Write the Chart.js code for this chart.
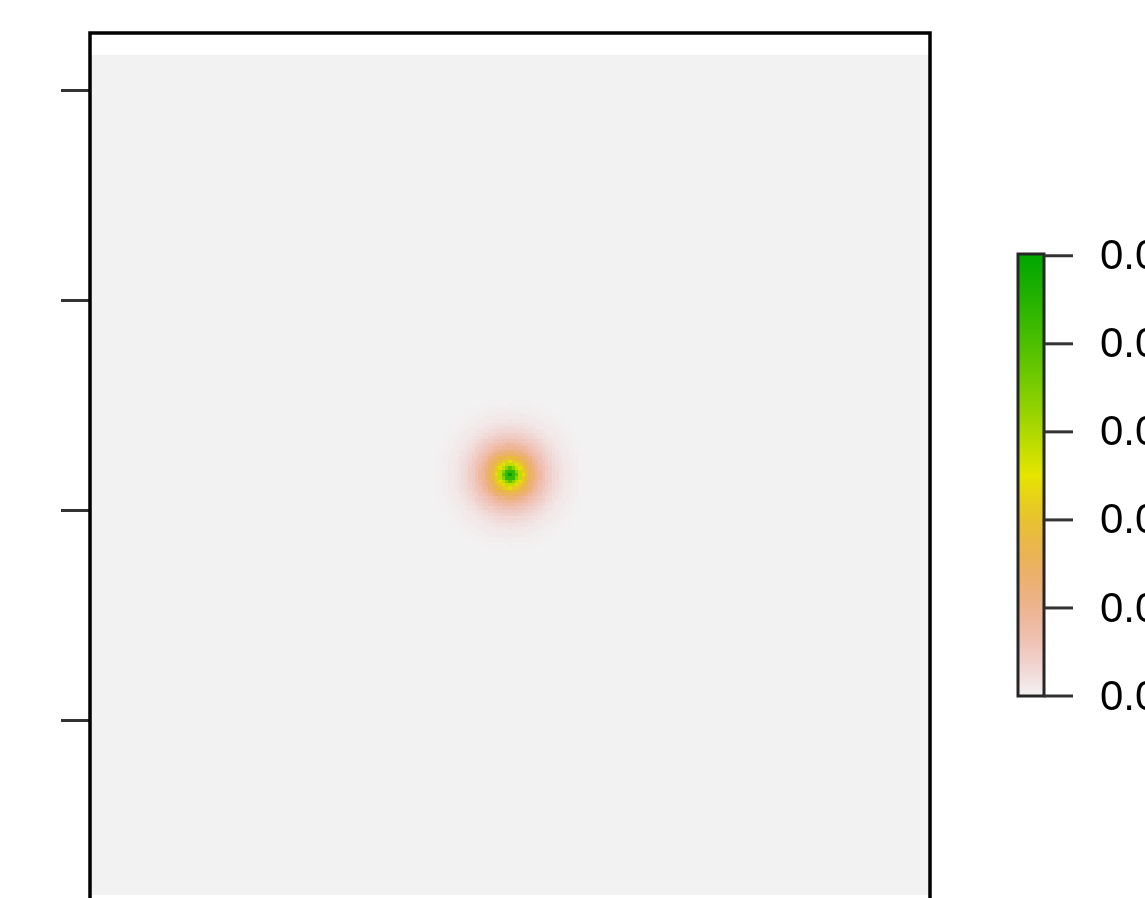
<!DOCTYPE html>
<html>
<head>
<meta charset="utf-8">
<script src="https://cdn.jsdelivr.net/npm/chart.js@4.4.1/dist/chart.umd.min.js"></script>
<style>
  html, body { margin: 0; padding: 0; background: #ffffff; overflow: hidden; }
  canvas { display: block; }
</style>
</head>
<body>
<canvas id="density" width="1145" height="950"></canvas>
<script>
// ---- data ----
const peakCenter = [0.17, 0.17];          // location of the density peak (x, y)
const rasterX = [-1.83, 2.17];            // raster extent along x
const rasterY = [-1.83, 2.17];            // raster extent along y
const frameY = [-1.927, 2.273];           // plotted y range (box is taller than the raster)
const cellsPerSide = 251;                 // raster resolution
const ringStep = 0.01;                    // radial spacing of the profile samples
// density sampled outward from the peak, one value per ring
const densityByRing = [
  0.0251, 0.0238, 0.0216, 0.0191, 0.0165, 0.0141, 0.0122, 0.0106, 0.0093, 0.0082,
  0.0072, 0.0063, 0.0055, 0.0048, 0.0042, 0.0037, 0.0032, 0.0028, 0.0024, 0.0021,
  0.0018, 0.0015, 0.0013, 0.0011, 0.00095, 0.00080, 0.00068, 0.00057, 0.00048, 0.00040,
  0.00034, 0.00029, 0.00024, 0.00020, 0.00016, 0.00014, 0.00011, 0.00009, 0.00007, 0.00005,
  0.00004
];
const yTickValues = [-1, 0, 1, 2];
const legendTicks = [0, 0.005, 0.010, 0.015, 0.020, 0.025];
const densityRange = [0, 0.0251];

// ---- colour ramp: reversed terrain palette (grey -> salmon -> yellow -> green) ----
function hsvToRgb(h, s, v) {
  const i = Math.floor(h * 6), f = h * 6 - i;
  const p = v * (1 - s), q = v * (1 - f * s), t = v * (1 - (1 - f) * s);
  let r, g, b;
  switch (((i % 6) + 6) % 6) {
    case 0: r = v; g = t; b = p; break;
    case 1: r = q; g = v; b = p; break;
    case 2: r = p; g = v; b = t; break;
    case 3: r = p; g = q; b = v; break;
    case 4: r = t; g = p; b = v; break;
    default: r = v; g = p; b = q;
  }
  return 'rgb(' + Math.round(r * 255) + ',' + Math.round(g * 255) + ',' + Math.round(b * 255) + ')';
}
function terrainColor(t) {
  t = Math.max(0, Math.min(1, t));
  if (t <= 0.5) {
    const u = t / 0.5;
    return hsvToRgb(u / 6, u, 0.95 - 0.05 * u);
  }
  const u = (t - 0.5) / 0.5;
  return hsvToRgb(1 / 6 + u / 6, 1, 0.9 - 0.25 * u);
}
const PALETTE_SIZE = 255;
const palette = Array.from({ length: PALETTE_SIZE }, (_, i) => terrainColor(i / (PALETTE_SIZE - 1)));
function colorFor(v) {
  const t = (v - densityRange[0]) / (densityRange[1] - densityRange[0]);
  const idx = Math.max(0, Math.min(PALETTE_SIZE - 1, Math.floor(t * PALETTE_SIZE)));
  return palette[idx];
}
function densityAt(x, y) {
  const d = Math.hypot(x - peakCenter[0], y - peakCenter[1]);
  const k = Math.round(d / ringStep);
  return k < densityByRing.length ? densityByRing[k] : 0;
}

// ---- raster cells drawn through the chart's scales ----
const heatRaster = {
  id: 'heatRaster',
  beforeDatasetsDraw(chart) {
    const { ctx, chartArea, scales: { x, y } } = chart;
    const cw = (rasterX[1] - rasterX[0]) / cellsPerSide;
    const ch = (rasterY[1] - rasterY[0]) / cellsPerSide;
    const xEdges = [], yEdges = [];
    for (let i = 0; i <= cellsPerSide; i++) {
      xEdges.push(Math.round(x.getPixelForValue(rasterX[0] + i * cw)));
      yEdges.push(Math.round(y.getPixelForValue(rasterY[0] + i * ch)));
    }
    ctx.save();
    ctx.beginPath();
    ctx.rect(chartArea.left, chartArea.top, chartArea.width, chartArea.height);
    ctx.clip();
    for (let i = 0; i < cellsPerSide; i++) {
      const xc = rasterX[0] + (i + 0.5) * cw;
      for (let j = 0; j < cellsPerSide; j++) {
        const yc = rasterY[0] + (j + 0.5) * ch;
        ctx.fillStyle = colorFor(densityAt(xc, yc));
        ctx.fillRect(xEdges[i], yEdges[j + 1], xEdges[i + 1] - xEdges[i], yEdges[j] - yEdges[j + 1]);
      }
    }
    ctx.restore();
  }
};

// ---- plot frame ----
const plotFrame = {
  id: 'plotFrame',
  afterDraw(chart) {
    const { ctx, chartArea: a } = chart;
    ctx.save();
    ctx.strokeStyle = '#000000';
    ctx.lineWidth = 3.5;
    ctx.strokeRect(a.left, a.top, a.right - a.left, a.bottom - a.top);
    ctx.restore();
  }
};

// ---- colour key on the right ----
const colorKey = {
  id: 'colorKey',
  afterDraw(chart) {
    const { ctx } = chart;
    const left = 1018, right = 1044, top = 254, bottom = 696;
    const h = bottom - top;
    const toPx = v => bottom - (v - densityRange[0]) / (densityRange[1] - densityRange[0]) * h;
    ctx.save();
    for (let i = 0; i < PALETTE_SIZE; i++) {
      const y0 = Math.round(bottom - i / PALETTE_SIZE * h);
      const y1 = Math.round(bottom - (i + 1) / PALETTE_SIZE * h);
      ctx.fillStyle = palette[i];
      ctx.fillRect(left, y1, right - left, y0 - y1);
    }
    ctx.strokeStyle = '#262626';
    ctx.lineWidth = 3;
    ctx.strokeRect(left, top, right - left, h);
    ctx.strokeStyle = '#333333';
    ctx.lineWidth = 3;
    ctx.fillStyle = '#000000';
    ctx.font = '42px "Liberation Sans", Arial, sans-serif';
    ctx.textAlign = 'left';
    ctx.textBaseline = 'middle';
    legendTicks.forEach(v => {
      const y = toPx(v);
      ctx.beginPath();
      ctx.moveTo(right, y);
      ctx.lineTo(1073, y);
      ctx.stroke();
      ctx.fillText(v.toFixed(3), 1100, y + 2);
    });
    ctx.restore();
  }
};

new Chart(document.getElementById('density'), {
  type: 'scatter',
  data: {
    datasets: [{
      label: 'peak',
      data: [{ x: peakCenter[0], y: peakCenter[1] }],
      pointRadius: 0,
      pointHoverRadius: 0
    }]
  },
  options: {
    responsive: false,
    animation: false,
    events: [],
    layout: { padding: { left: 61, top: 33, right: 215, bottom: 35 } },
    plugins: { legend: { display: false }, tooltip: { enabled: false } },
    scales: {
      x: {
        type: 'linear',
        min: rasterX[0],
        max: rasterX[1],
        display: false
      },
      y: {
        type: 'linear',
        min: frameY[0],
        max: frameY[1],
        afterBuildTicks: s => { s.ticks = yTickValues.map(value => ({ value })); },
        ticks: { display: false },
        border: { display: false },
        grid: {
          display: true,
          drawOnChartArea: false,
          drawTicks: true,
          tickLength: 29,
          tickWidth: 3,
          tickColor: '#333333'
        }
      }
    }
  },
  plugins: [heatRaster, plotFrame, colorKey]
});
</script>
</body>
</html>
